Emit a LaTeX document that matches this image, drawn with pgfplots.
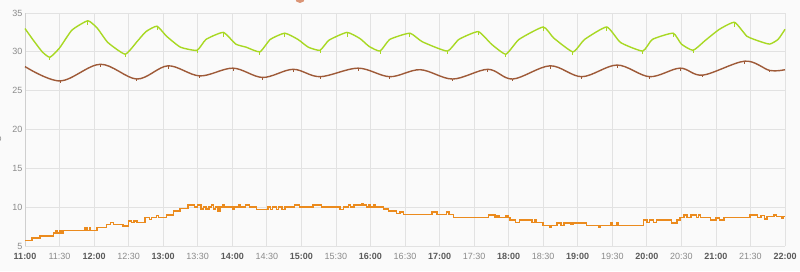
\documentclass[border=0pt]{standalone}
\usepackage{pgfplots}
\pgfplotsset{compat=1.18}
\usepackage{fontspec}
\setmainfont{Liberation Sans}
\definecolor{bgc}{HTML}{FAFAFA}
\definecolor{gridc}{HTML}{E2E2E2}
\definecolor{axc}{HTML}{CFCFCF}
\definecolor{tickc}{HTML}{8A8A8A}
\definecolor{tickb}{HTML}{5A5A5A}
\definecolor{greenl}{HTML}{A8D823}
\definecolor{brownl}{HTML}{9E5A38}
\definecolor{orangel}{HTML}{EB8B1E}
\definecolor{legc}{HTML}{DB9576}
\newcommand{\hb}[1]{\textcolor{tickb}{\bfseries #1}}
\begin{document}
\begin{tikzpicture}[x=1pt,y=1pt]
\useasboundingbox (0,0) rectangle (800,271);
\fill[bgc] (0,0) rectangle (800,271);
\begin{axis}[
  at={(25pt,25pt)}, anchor=south west,
  scale only axis, width=760pt, height=233pt,
  xmin=11, xmax=22, ymin=5, ymax=35,
  xtick={11,11.5,...,22},
  xticklabels={\hb{11:00},11:30,\hb{12:00},12:30,\hb{13:00},13:30,\hb{14:00},14:30,\hb{15:00},15:30,\hb{16:00},16:30,\hb{17:00},17:30,\hb{18:00},18:30,\hb{19:00},19:30,\hb{20:00},20:30,\hb{21:00},21:30,\hb{22:00}},
  ytick={5,10,...,35},
  grid=major,
  major grid style={gridc, line width=0.8pt},
  axis line style={draw=none},
  tick style={draw=none},
  axis x line*=bottom, axis y line*=left,
  ticklabel style={font=\fontsize{9}{10}\selectfont, text=tickc},
  xticklabel style={yshift=-4pt},
  yticklabel style={xshift=1pt},
  /pgf/number format/assume math mode=true,
  clip=false,
]
\draw[axc, line width=0.9pt] (axis cs:11,5) -- (axis cs:11,35);
\addplot[greenl, line width=1.4pt, smooth, tension=0.3] coordinates {
(11.00,33.0) (11.12,31.5) (11.25,30.0) (11.36,29.3) (11.50,30.5) (11.68,32.8) (11.91,34.0)
(12.05,33.0) (12.20,31.2) (12.45,29.7) (12.62,31.3) (12.75,32.6) (12.91,33.3)
(13.05,32.0) (13.25,30.6) (13.49,30.2) (13.62,31.6) (13.87,32.5)
(14.05,31.0) (14.20,30.6) (14.40,30.0) (14.55,31.6) (14.76,32.4)
(14.95,31.6) (15.10,30.6) (15.27,30.2) (15.40,31.5) (15.66,32.5)
(15.85,31.7) (15.98,30.7) (16.14,30.1) (16.28,31.6) (16.57,32.4)
(16.75,31.3) (17.11,30.1) (17.28,31.6) (17.56,32.6)
(17.75,31.0) (17.96,29.7) (18.15,31.6) (18.50,33.2)
(18.65,31.8) (18.93,30.0) (19.10,31.6) (19.42,33.2)
(19.62,31.2) (19.94,30.1) (20.08,31.6) (20.38,32.4)
(20.50,31.0) (20.67,30.2) (20.85,31.5) (21.05,32.9) (21.27,33.8)
(21.45,32.0) (21.65,31.3) (21.78,31.0) (21.90,31.6) (22.00,32.9)
};
\addplot[draw=none, mark=none, forget plot,
  error bars/.cd, y dir=minus, y explicit, error bar style={draw=greenl, line width=0.9pt}, error mark=none]
  coordinates {
(11.36,29.35) -= (0,0.4) (11.91,33.95) -= (0,0.5)
(12.45,29.75) -= (0,0.4) (12.91,33.25) -= (0,0.5) (13.49,30.25) -= (0,0.4)
(13.87,32.45) -= (0,0.5) (14.40,30.05) -= (0,0.4) (14.76,32.35) -= (0,0.4)
(15.27,30.25) -= (0,0.4) (15.66,32.45) -= (0,0.5) (16.14,30.15) -= (0,0.4)
(16.57,32.35) -= (0,0.4) (17.11,30.15) -= (0,0.4) (17.56,32.55) -= (0,0.4)
(17.96,29.75) -= (0,0.4) (18.50,33.15) -= (0,0.5) (18.93,30.05) -= (0,0.4)
(19.42,33.15) -= (0,0.5) (19.94,30.15) -= (0,0.4) (20.38,32.35) -= (0,0.4)
(20.67,30.25) -= (0,0.4) (21.27,33.75) -= (0,0.5)
};
\addplot[brownl, line width=1.4pt, smooth, tension=0.55] coordinates {
(11.00,28.1) (11.51,26.25) (12.09,28.4) (12.62,26.5) (13.07,28.2) (13.53,26.9)
(14.01,27.9) (14.44,26.7) (14.88,27.75) (15.27,26.8) (15.82,27.9) (16.28,26.8)
(16.72,27.7) (17.19,26.5) (17.70,27.75) (18.06,26.5) (18.60,28.2) (19.06,26.8)
(19.57,28.3) (20.04,26.8) (20.48,27.9) (20.81,27.0) (21.42,28.8) (21.78,27.6) (22.00,27.7)
};
\addplot[draw=none, mark=none, forget plot,
  error bars/.cd, y dir=minus, y explicit, error bar style={draw=brownl, line width=0.9pt}, error mark=none]
  coordinates {
(11.51,26.3) -= (0,0.35) (12.09,28.35) -= (0,0.3) (12.62,26.55) -= (0,0.35)
(13.07,28.15) -= (0,0.3) (13.53,26.95) -= (0,0.35)
(14.01,27.85) -= (0,0.3) (14.44,26.75) -= (0,0.35) (14.88,27.7) -= (0,0.3)
(15.27,26.85) -= (0,0.35) (15.82,27.85) -= (0,0.3) (16.28,26.85) -= (0,0.35)
(17.19,26.55) -= (0,0.35) (17.70,27.7) -= (0,0.3)
(18.06,26.55) -= (0,0.35) (18.60,28.15) -= (0,0.3) (19.06,26.85) -= (0,0.35)
(19.57,28.25) -= (0,0.3) (20.04,26.85) -= (0,0.35) (20.48,27.85) -= (0,0.3)
(20.81,27.05) -= (0,0.35) (21.42,28.75) -= (0,0.3) (21.78,27.65) -= (0,0.3)
};
\addplot[orangel, line width=1.5pt, const plot] coordinates {
(11.00,5.7) (11.10,6.0) (11.22,6.3) (11.41,6.7) (11.45,7.0) (11.47,6.7) (11.50,7.0) (11.52,6.7)
(11.55,7.0) (11.87,7.35) (11.90,7.0) (11.93,7.35) (11.95,7.0) (12.04,7.4) (12.18,7.75)
(12.24,8.0) (12.28,7.75) (12.42,7.6) (12.50,8.25) (12.54,8.0) (12.58,8.25) (12.62,8.0)
(12.74,8.65) (12.80,8.4) (12.83,8.65) (12.90,8.9) (12.93,8.7) (13.05,9.0) (13.15,9.5)
(13.24,9.8) (13.36,10.25) (13.45,10.0) (13.50,10.25) (13.55,9.75) (13.58,10.0) (13.62,9.75)
(13.66,10.0) (13.70,10.25) (13.73,9.75) (13.76,10.0) (13.79,9.5) (13.82,10.0) (13.86,10.25)
(13.88,10.0) (14.01,9.75) (14.03,10.0) (14.10,10.25) (14.12,10.0) (14.19,10.25) (14.25,10.0)
(14.35,9.7) (14.52,10.0) (14.55,9.7) (14.58,10.0) (14.64,9.7) (14.67,10.0) (14.72,9.7)
(14.76,10.0) (14.90,10.25) (14.97,10.0) (15.17,10.25) (15.29,10.0) (15.56,9.7) (15.61,10.0)
(15.68,10.25) (15.71,10.0) (15.76,10.25) (15.88,10.5) (15.90,10.25) (15.94,10.0) (15.98,10.25)
(16.00,10.0) (16.05,10.25) (16.07,10.0) (16.19,9.75) (16.26,9.5) (16.38,9.2) (16.43,9.35)
(16.48,9.05) (16.89,9.35) (16.96,9.05) (17.10,9.4) (17.14,9.05) (17.20,8.7) (17.71,9.0)
(17.80,8.7) (17.83,8.9) (17.86,8.7) (17.96,8.9) (17.99,8.7) (18.02,8.35) (18.10,8.0)
(18.16,8.35) (18.34,8.0) (18.38,8.35) (18.40,8.0) (18.50,7.65) (18.60,7.4) (18.62,7.65)
(18.70,7.95) (18.76,7.65) (18.80,7.95) (18.90,7.75) (18.93,7.95) (19.13,7.65) (19.30,7.4)
(19.32,7.65) (19.48,7.95) (19.50,7.65) (19.56,7.95) (19.58,7.65) (19.95,8.35) (20.00,8.05)
(20.04,8.35) (20.10,8.05) (20.14,8.35) (20.36,7.95) (20.44,8.35) (20.48,8.7) (20.54,9.0)
(20.58,8.7) (20.64,9.0) (20.72,8.7) (20.75,9.0) (20.78,8.7) (20.92,8.35) (21.00,8.6)
(21.05,8.35) (21.12,8.7) (21.49,9.0) (21.60,8.7) (21.65,8.9) (21.70,8.5) (21.74,8.8)
(21.84,9.0) (21.88,8.8) (21.96,8.6) (21.98,8.8) (22.00,8.8)
};
\end{axis}
\fill[legc] (300,273) circle (5);
\node[rotate=90, font=\fontsize{9}{10}\selectfont, text=tickc] at (-2,130) {°C};
\end{tikzpicture}
\end{document}
